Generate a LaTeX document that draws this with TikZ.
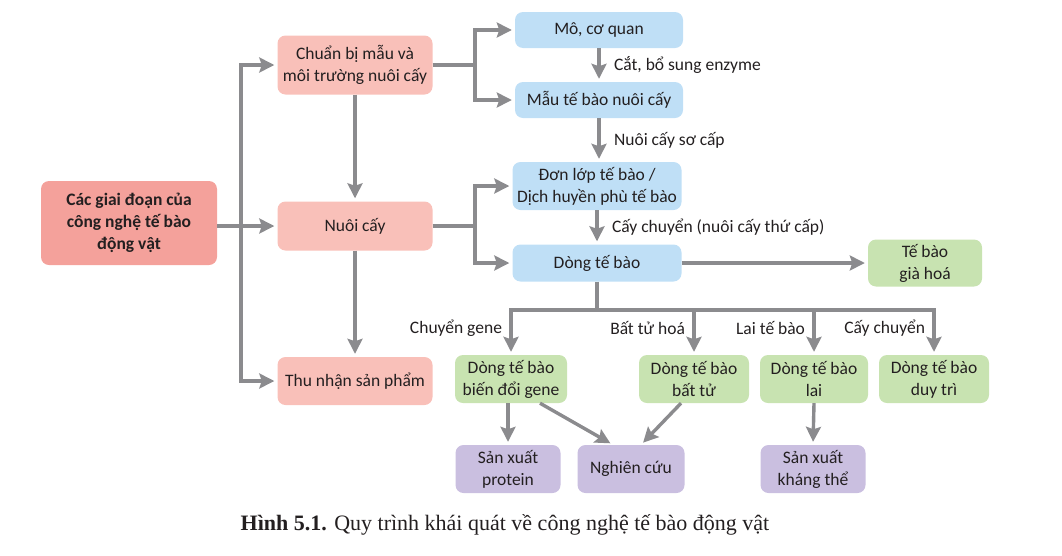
\documentclass[tikz,border=0pt]{standalone}
\usepackage{fontspec}
\setmainfont{Carlito}
\newfontfamily\capfont{Liberation Serif}
\usetikzlibrary{arrows.meta}

\definecolor{stagered}{HTML}{F4A19B}
\definecolor{stagepink}{HTML}{F9C0B9}
\definecolor{cellblue}{HTML}{BFDFF6}
\definecolor{linegreen}{HTML}{C8E3B1}
\definecolor{prodviolet}{HTML}{CABFE0}
\definecolor{flowgray}{HTML}{8B8B8E}
\definecolor{inkdark}{HTML}{231F20}

\begin{document}
\begin{tikzpicture}[x=1pt,y=-1pt,
	box/.style={rounded corners=8pt, align=center, inner sep=0pt, text=inkdark,
		font=\fontsize{17.5}{22}\selectfont},
	stagebox/.style={box, fill=stagepink, minimum width=155pt},
	cellbox/.style={box, fill=cellblue, minimum width=169pt},
	linebox/.style={box, fill=linegreen, minimum height=48pt},
	prodbox/.style={box, fill=prodviolet, minimum height=48pt},
	pipe/.style={draw=flowgray, line width=3.4pt},
	flow/.style={pipe, shorten >=3pt, -{Stealth[width=15pt,length=15pt,inset=2.5pt]}},
	steplabel/.style={text=inkdark, font=\fontsize{17.5}{22}\selectfont}]
	
	\useasboundingbox (0,0) rectangle (1062,555);
	
	% stages
	\node[box, fill=stagered, minimum width=176pt, minimum height=84pt,
		font=\bfseries\fontsize{17.5}{22}\selectfont] (stages) at (129,223)
		{Các giai đoạn của\\công nghệ tế bào\\động vật};
	\node[stagebox, minimum height=59pt] (prep) at (355,65) {Chuẩn bị mẫu và\\môi trường nuôi cấy};
	\node[stagebox, minimum height=49pt] (culture) at (355,226) {Nuôi cấy};
	\node[stagebox, minimum height=48pt] (harvest) at (355,381) {Thu nhận sản phẩm};
	
	% cells
	\node[cellbox, minimum width=168pt, minimum height=36pt] (tissue) at (599,30) {Mô, cơ quan};
	\node[cellbox, minimum width=168pt, minimum height=36pt] (sample) at (599,100) {Mẫu tế bào nuôi cấy};
	\node[cellbox, minimum height=48pt] (mono) at (597,186) {Đơn lớp tế bào /\\Dịch huyền phù tế bào};
	\node[cellbox, minimum height=37pt] (cellline) at (597,263) {Dòng tế bào};
	
	% cell lines
	\node[linebox, minimum width=114pt, minimum height=47pt] (senescent) at (925,263) {Tế bào\\già hoá};
	\node[linebox, minimum width=112pt] (transgenic) at (511,379) {Dòng tế bào\\biến đổi gene};
	\node[linebox, minimum width=110pt] (immortal) at (694,379) {Dòng tế bào\\bất tử};
	\node[linebox, minimum width=108pt] (hybrid) at (814,379) {Dòng tế bào\\lai};
	\node[linebox, minimum width=110pt] (maintained) at (934,379) {Dòng tế bào\\duy trì};
	
	% products
	\node[prodbox, minimum width=105pt] (protein) at (508,469) {Sản xuất\\protein};
	\node[prodbox, minimum width=107pt] (research) at (631,469) {Nghiên cứu};
	\node[prodbox, minimum width=105pt] (antibody) at (813,469) {Sản xuất\\kháng thể};
	
	% left fork
	\coordinate (fork1) at (241,226);
	\draw[flow] (stages.east |- culture.west) -- (culture.west);
	\draw[flow] (fork1) |- (prep.west);
	\draw[flow] (fork1) |- (harvest.west);
	\draw[flow] (prep) -- (culture);
	\draw[flow] (culture) -- (harvest);
	
	% middle forks
	\coordinate (fork2) at (475,65);
	\coordinate (fork3) at (475,226);
	\draw[pipe] (prep.east) -- (fork2);
	\draw[flow] (fork2) |- (tissue.west);
	\draw[flow] (fork2) |- (sample.west);
	\draw[pipe] (culture.east) -- (fork3);
	\draw[flow] (fork3) |- (mono.west);
	\draw[flow] (fork3) |- (cellline.west);
	
	% culture steps
	\draw[flow] (tissue) -- (sample) node[steplabel, midway, right=10pt] {Cắt, bổ sung enzyme};
	\draw[flow] (sample.south) -- (sample.south |- mono.north)
		node[steplabel, midway, right=10pt] {Nuôi cấy sơ cấp};
	\draw[flow] (mono.south) -- (cellline.north)
		node[steplabel, midway, right=10pt] {Cấy chuyển (nuôi cấy thứ cấp)};
	\draw[flow] (cellline) -- (senescent);
	
	% branches
	\coordinate (fork4) at (597,310);
	\draw[pipe] (cellline.south) -- (fork4);
	\draw[pipe, line cap=rect] (transgenic.north |- fork4) -- (maintained.north |- fork4);
	\draw[flow] (transgenic.north |- fork4) -- (transgenic.north)
		node[steplabel, pos=0.4, left=4pt] {Chuyển gene};
	\draw[flow] (immortal.north |- fork4) -- (immortal.north)
		node[steplabel, pos=0.4, left=4pt] {Bất tử hoá};
	\draw[flow] (hybrid.north |- fork4) -- (hybrid.north)
		node[steplabel, pos=0.4, left=4pt] {Lai tế bào};
	\draw[flow] (maintained.north |- fork4) -- (maintained.north)
		node[steplabel, pos=0.4, left=4pt] {Cấy chuyển};
	
	% products
	\draw[flow] (transgenic.south -| protein) -- (protein.north);
	\draw[flow] ([xshift=29pt]transgenic.south) -- ([xshift=-18pt]research.north);
	\draw[flow] ([xshift=-13pt]immortal.south) -- ([xshift=10pt]research.north);
	\draw[flow] (hybrid.south) -- (antibody.north);
	
	% caption
	\node[font=\capfont\fontsize{22}{26}\selectfont, text=inkdark] (caption) at (505,525)
		{\textbf{Hình 5.1.} Quy trình khái quát về công nghệ tế bào động vật};
	
\end{tikzpicture}
\end{document}
